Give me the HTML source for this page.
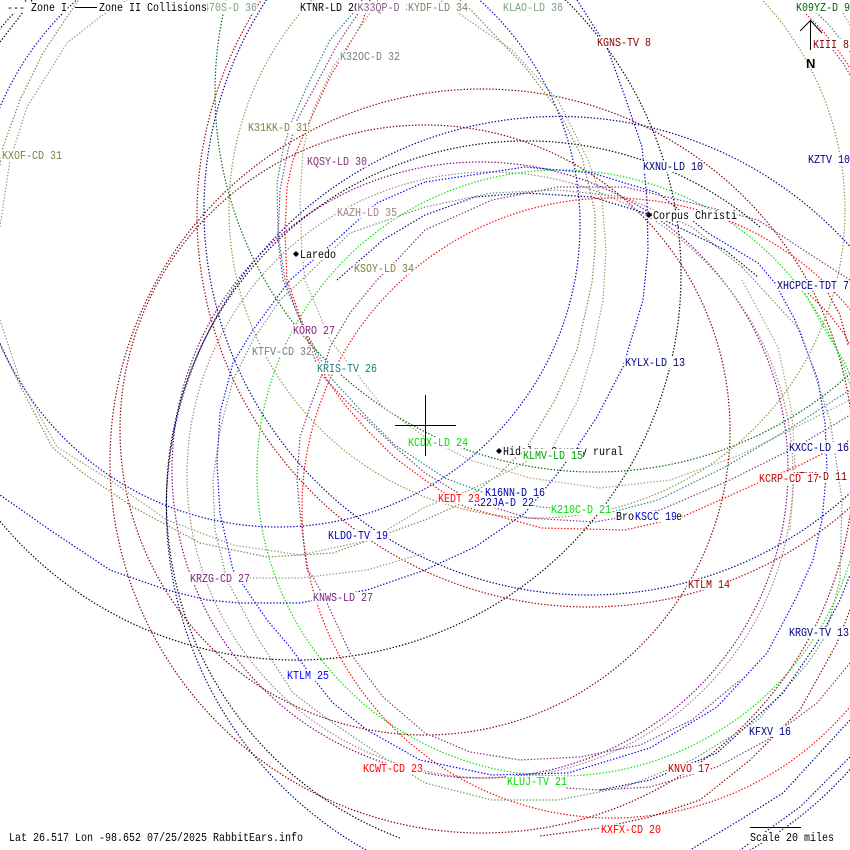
<!DOCTYPE html>
<html><head><meta charset="utf-8"><style>
html,body{margin:0;padding:0;background:#fff;width:850px;height:850px;overflow:hidden;}
svg{display:block;overflow:hidden;}
text{font-family:"Liberation Mono","DejaVu Sans Mono",monospace;font-size:12px;}
.a{fill:none;stroke-width:1.2;stroke-dasharray:1.4 1.8;}
</style></head><body>
<svg width="850" height="850" viewBox="0 0 850 850" xmlns="http://www.w3.org/2000/svg">
<rect width="850" height="850" fill="#fff"/>
<g class="a">
<circle cx="278" cy="225" r="302" stroke="#0000c0" class="a"/>
<circle cx="296" cy="275" r="385" stroke="#000" class="a"/>
<circle cx="482" cy="461" r="372" stroke="#800000" class="a"/>
<circle cx="425" cy="430" r="305" stroke="#800000" class="a"/>
<circle cx="589" cy="215" r="392" stroke="#a00000" class="a"/>
<circle cx="480" cy="470" r="308" stroke="#800080" class="a"/>
<circle cx="490" cy="475" r="303" stroke="#a08080" class="a"/>
<circle cx="560" cy="473" r="303" stroke="#00e000" class="a"/>
<circle cx="612" cy="508" r="310" stroke="#ff0000" class="a"/>
<path class="a" stroke="#000080" d="M366,850 A392,392 0 1 1 850,246.5 M850,769.5 A392,392 0 0 1 750,850"/>
<circle cx="595" cy="92" r="380" stroke="#006000" class="a"/>
<path class="a" stroke="#000" d="M400,838 A360,360 0 1 1 760,227"/>
<circle cx="589" cy="210" r="385" stroke="#000080" class="a"/>
<circle cx="537" cy="210" r="308" stroke="#909040" class="a"/>
<polyline class="a" stroke="#000" points="0,42 27,7 32,0"/>
<polyline class="a" stroke="#808040" points="0,165 3,147 20,100 43,53 77,2 79,0"/>
<polyline class="a" stroke="#80a080" points="0,227 10,160 27,107 67,43 100,17 127,0"/>
<polyline class="a" stroke="#808040" points="0,345 25,395 52,447 83,473 133,507 200,543 267,557 333,553 425,520 458,505 498,475 527,447 555,400 577,350 592,283 595,250 595,213 582,157 558,110 525,67 468,7 460,0"/>
<polyline class="a" stroke="#80a080" points="0,320 20,380 57,447 110,480 167,520 233,545 300,555 370,540 425,507 470,490 515,468 553,447 578,400 593,350 603,300 606,250 602,200 588,160 558,100 512,50 458,13 440,0"/>
<polyline class="a" stroke="#80a080" points="240,578 300,578 367,570 425,553"/>
<polyline class="a" stroke="#208080" points="362,0 353,13 330,40 310,80 292,120 283,150 277,183 278,233 285,280 300,320 330,377 365,415 395,445 445,478 485,493 540,507 612,512 658,500 725,467 792,427 850,390"/>
<polyline class="a" stroke="#803080" points="364,3 357,15 337,45 317,83 297,120 288,150 280,190 278,240 283,280 300,320 320,373 345,400 367,420 395,447 425,473 470,500 528,518 595,522 660,510 730,480 800,445 850,415"/>
<polyline class="a" stroke="#ff0000" points="370,0 362,23 330,77 307,127 293,160 287,187 285,233 287,280 305,330 327,380 345,405 367,430 395,458 425,480 465,507 542,528 625,530 682,517 758,483 800,465 850,440"/>
<polyline class="a" stroke="#a0a080" points="378,0 370,13 333,67 313,110 303,150 300,200 302,250 305,280 330,340 383,407 425,437 470,460 530,478 600,488 670,480 740,455 800,425 850,400"/>
<polyline class="a" stroke="#0000ff" points="425,182 377,203 333,243 290,280 253,330 233,363 220,413 217,463 220,513 233,570 267,620 290,647 317,683 333,703 367,730 420,760 492,775 568,773 650,748 717,707 767,653 795,600 813,560 822,520 827,467 825,423 818,380 795,320 775,283 758,263 708,233 658,193 592,173 525,167 425,182"/>
<polyline class="a" stroke="#709070" points="742,267 692,227 625,197 558,190 492,193 425,207 350,233 307,275 280,300 253,340 233,380 220,430 213,480 215,530 227,580 257,637 293,693 333,723 383,757 425,783 492,800 558,800 625,787 692,760 758,720 808,663 825,637 840,580 842,500 830,420 800,330 742,267"/>
<polyline class="a" stroke="#000080" points="337,280 383,240 425,215 475,197 525,193 592,197 658,217 725,250 758,277"/>
<polyline class="a" stroke="#803080" points="850,280 808,253 758,220 692,203 625,187 558,187 492,200 425,230 397,260 377,280 350,313 330,347 320,380 310,407 300,437 297,480 300,513 307,570 313,577 327,603 350,653 383,697 425,733 470,752 520,760 580,757 640,745 692,720 740,680"/>
<polyline class="a" stroke="#0000c0" points="577,0 607,47 625,97 642,147 647,200 648,250 643,300 623,367 597,417 577,447 558,473 525,513 475,547 425,570 367,590 300,603 240,603 207,600 167,590 110,570 50,530 0,495"/>
<polyline class="a" stroke="#ff0000" points="806,14 822,30 838,50 850,68"/>
<polyline class="a" stroke="#208080" points="814,10 830,26 845,45 850,52"/>
<polyline class="a" stroke="#803080" points="833,50 843,63 850,75"/>
<polyline class="a" stroke="#80a080" points="843,13 850,25"/>
<polyline class="a" stroke="#00e000" points="805,293 825,330 845,363 850,375"/>
<polyline class="a" stroke="#ff0000" points="808,293 830,315 845,335 850,345"/>
<polyline class="a" stroke="#800000" points="828,293 840,315 848,345"/>
<polyline class="a" stroke="#a0a080" points="742,280 778,347 792,413 795,467 790,530"/>
<polyline class="a" stroke="#000080" points="850,720 783,793 740,820 690,850"/>
<polyline class="a" stroke="#000080" points="850,757 800,807 740,850"/>
<polyline class="a" stroke="#000080" points="600,790 650,780 717,753 783,693 817,643 840,600 850,575"/>
<polyline class="a" stroke="#800000" points="850,610 837,643 800,710 750,760 700,800 650,817 600,828 540,836"/>
<polyline class="a" stroke="#803080" points="850,663 817,703 767,740 717,767 650,787 600,790 565,788"/>
</g>

<!-- labels -->
<g>
<rect x="196" y="2" width="61" height="11" fill="#fff"/><text x="197" y="11" textLength="60" lengthAdjust="spacingAndGlyphs" fill="#80a080">K470S-D 36</text>
<rect x="6" y="2" width="61" height="11" fill="#fff"/><text x="7" y="11" textLength="60" lengthAdjust="spacingAndGlyphs" fill="#000">--- Zone I</text>
<line x1="75" y1="7.5" x2="97" y2="7.5" stroke="#000" stroke-width="1"/>
<rect x="98" y="2" width="109" height="11" fill="#fff"/><text x="99" y="11" textLength="108" lengthAdjust="spacingAndGlyphs" fill="#000">Zone II Collisions</text>
<rect x="299" y="2" width="61" height="11" fill="#fff"/><text x="300" y="11" textLength="60" lengthAdjust="spacingAndGlyphs" fill="#000">KTNR-LD 20</text>
<rect x="356.5" y="2" width="61" height="11" fill="#fff"/><text x="357.5" y="11" textLength="60" lengthAdjust="spacingAndGlyphs" fill="#806080">K33QP-D 36</text>
<rect x="407" y="2" width="61" height="11" fill="#fff"/><text x="408" y="11" textLength="60" lengthAdjust="spacingAndGlyphs" fill="#808060">KYDF-LD 34</text>
<rect x="502" y="2" width="61" height="11" fill="#fff"/><text x="503" y="11" textLength="60" lengthAdjust="spacingAndGlyphs" fill="#80a080">KLAO-LD 36</text>
<rect x="795" y="2" width="55" height="11" fill="#fff"/><text x="796" y="11" textLength="54" lengthAdjust="spacingAndGlyphs" fill="#006000">K09YZ-D 9</text>
<rect x="596" y="37" width="55" height="11" fill="#fff"/><text x="597" y="46" textLength="54" lengthAdjust="spacingAndGlyphs" fill="#800000">KGNS-TV 8</text>
<rect x="812" y="39" width="37" height="11" fill="#fff"/><text x="813" y="48" textLength="36" lengthAdjust="spacingAndGlyphs" fill="#800000">KIII 8</text>
<rect x="339" y="51" width="61" height="11" fill="#fff"/><text x="340" y="60" textLength="60" lengthAdjust="spacingAndGlyphs" fill="#708080">K32OC-D 32</text>
<rect x="247" y="122" width="61" height="11" fill="#fff"/><text x="248" y="131" textLength="60" lengthAdjust="spacingAndGlyphs" fill="#808040">K31KK-D 31</text>
<rect x="1" y="150" width="61" height="11" fill="#fff"/><text x="2" y="159" textLength="60" lengthAdjust="spacingAndGlyphs" fill="#808040">KXOF-CD 31</text>
<rect x="306" y="156" width="61" height="11" fill="#fff"/><text x="307" y="165" textLength="60" lengthAdjust="spacingAndGlyphs" fill="#803080">KQSY-LD 30</text>
<rect x="642" y="161" width="61" height="11" fill="#fff"/><text x="643" y="170" textLength="60" lengthAdjust="spacingAndGlyphs" fill="#000080">KXNU-LD 10</text>
<rect x="807" y="154" width="43" height="11" fill="#fff"/><text x="808" y="163" textLength="42" lengthAdjust="spacingAndGlyphs" fill="#000080">KZTV 10</text>
<rect x="336" y="207" width="61" height="11" fill="#fff"/><text x="337" y="216" textLength="60" lengthAdjust="spacingAndGlyphs" fill="#a08080">KAZH-LD 35</text>
<rect x="652" y="210" width="85" height="11" fill="#fff"/><text x="653" y="219" textLength="84" lengthAdjust="spacingAndGlyphs" fill="#000">Corpus Christi</text>
<polygon points="649,212 652,215 649,218 646,215" fill="#000"/>
<rect x="299" y="249" width="37" height="11" fill="#fff"/><text x="300" y="258" textLength="36" lengthAdjust="spacingAndGlyphs" fill="#000">Laredo</text>
<polygon points="296,251 299,254 296,257 293,254" fill="#000"/>
<rect x="353" y="263" width="61" height="11" fill="#fff"/><text x="354" y="272" textLength="60" lengthAdjust="spacingAndGlyphs" fill="#808040">KSOY-LD 34</text>
<rect x="776" y="280" width="73" height="11" fill="#fff"/><text x="777" y="289" textLength="72" lengthAdjust="spacingAndGlyphs" fill="#000080">XHCPCE-TDT 7</text>
<rect x="292" y="325" width="43" height="11" fill="#fff"/><text x="293" y="334" textLength="42" lengthAdjust="spacingAndGlyphs" fill="#802080">KORO 27</text>
<rect x="251" y="346" width="61" height="11" fill="#fff"/><text x="252" y="355" textLength="60" lengthAdjust="spacingAndGlyphs" fill="#708080">KTFV-CD 32</text>
<rect x="316" y="363" width="61" height="11" fill="#fff"/><text x="317" y="372" textLength="60" lengthAdjust="spacingAndGlyphs" fill="#208080">KRIS-TV 26</text>
<rect x="624" y="357" width="61" height="11" fill="#fff"/><text x="625" y="366" textLength="60" lengthAdjust="spacingAndGlyphs" fill="#000080">KYLX-LD 13</text>
<rect x="407" y="437" width="61" height="11" fill="#fff"/><text x="408" y="446" textLength="60" lengthAdjust="spacingAndGlyphs" fill="#00e000">KCDX-LD 24</text>
<rect x="502" y="446" width="121" height="11" fill="#fff"/><text x="503" y="455" textLength="120" lengthAdjust="spacingAndGlyphs" fill="#000">Hidalgo County rural</text>
<polygon points="499,448 502,451 499,454 496,451" fill="#000"/>
<rect x="522" y="449" width="61" height="12" fill="#fff"/><text x="523" y="459" textLength="60" lengthAdjust="spacingAndGlyphs" fill="#00a000">KLMV-LD 15</text>
<rect x="788" y="442" width="62" height="11" fill="#fff"/><text x="789" y="451" textLength="60" lengthAdjust="spacingAndGlyphs" fill="#000080">KXCC-LD 16</text>
<rect x="792" y="471" width="58" height="11" fill="#fff"/><text x="793" y="480" textLength="54" lengthAdjust="spacingAndGlyphs" fill="#800000">KTXK-D 11</text>
<rect x="758" y="473" width="61" height="11" fill="#fff"/><text x="759" y="482" textLength="60" lengthAdjust="spacingAndGlyphs" fill="#c00000">KCRP-CD 17</text>
<rect x="484" y="487" width="61" height="10" fill="#fff"/><text x="485" y="496" textLength="60" lengthAdjust="spacingAndGlyphs" fill="#0000a0">K16NN-D 16</text>
<rect x="473" y="497" width="61" height="11" fill="#fff"/><text x="474" y="506" textLength="60" lengthAdjust="spacingAndGlyphs" fill="#0000c0">K22JA-D 22</text>
<rect x="437" y="493" width="43" height="11" fill="#fff"/><text x="438" y="502" textLength="42" lengthAdjust="spacingAndGlyphs" fill="#ff0000">KEDT 23</text>
<rect x="550" y="504" width="61" height="11" fill="#fff"/><text x="551" y="513" textLength="60" lengthAdjust="spacingAndGlyphs" fill="#00e000">K210C-D 21</text>
<rect x="615" y="511" width="67" height="11" fill="#fff"/><text x="616" y="520" textLength="66" lengthAdjust="spacingAndGlyphs" fill="#000">Brownsville</text>
<rect x="634" y="511" width="43" height="11" fill="#fff"/><text x="635" y="520" textLength="42" lengthAdjust="spacingAndGlyphs" fill="#0000c0">KSCC 19</text>
<rect x="327" y="530" width="61" height="11" fill="#fff"/><text x="328" y="539" textLength="60" lengthAdjust="spacingAndGlyphs" fill="#0000c0">KLDO-TV 19</text>
<rect x="189" y="573" width="61" height="11" fill="#fff"/><text x="190" y="582" textLength="60" lengthAdjust="spacingAndGlyphs" fill="#802080">KRZG-CD 27</text>
<rect x="312" y="592" width="61" height="11" fill="#fff"/><text x="313" y="601" textLength="60" lengthAdjust="spacingAndGlyphs" fill="#802080">KNWS-LD 27</text>
<rect x="687" y="579" width="43" height="11" fill="#fff"/><text x="688" y="588" textLength="42" lengthAdjust="spacingAndGlyphs" fill="#a00000">KTLM 14</text>
<rect x="788" y="627" width="62" height="11" fill="#fff"/><text x="789" y="636" textLength="60" lengthAdjust="spacingAndGlyphs" fill="#000080">KRGV-TV 13</text>
<rect x="286" y="670" width="43" height="11" fill="#fff"/><text x="287" y="679" textLength="42" lengthAdjust="spacingAndGlyphs" fill="#0000ff">KTLM 25</text>
<rect x="748" y="726" width="43" height="11" fill="#fff"/><text x="749" y="735" textLength="42" lengthAdjust="spacingAndGlyphs" fill="#000080">KFXV 16</text>
<rect x="667" y="763" width="43" height="11" fill="#fff"/><text x="668" y="772" textLength="42" lengthAdjust="spacingAndGlyphs" fill="#c00000">KNVO 17</text>
<rect x="362" y="763" width="61" height="11" fill="#fff"/><text x="363" y="772" textLength="60" lengthAdjust="spacingAndGlyphs" fill="#ff0000">KCWT-CD 23</text>
<rect x="506" y="776" width="61" height="11" fill="#fff"/><text x="507" y="785" textLength="60" lengthAdjust="spacingAndGlyphs" fill="#00e000">KLUJ-TV 21</text>
<rect x="600" y="824" width="61" height="11" fill="#fff"/><text x="601" y="833" textLength="60" lengthAdjust="spacingAndGlyphs" fill="#ff0000">KXFX-CD 20</text>
<rect x="8" y="832" width="295" height="11" fill="#fff"/><text x="9" y="841" textLength="294" lengthAdjust="spacingAndGlyphs" fill="#000">Lat 26.517 Lon -98.652 07/25/2025 RabbitEars.info</text>
<line x1="750" y1="827.5" x2="801" y2="827.5" stroke="#000" stroke-width="1"/>
<rect x="749" y="832" width="85" height="11" fill="#fff"/><text x="750" y="841" textLength="84" lengthAdjust="spacingAndGlyphs" fill="#000">Scale 20 miles</text>
</g>

<!-- north arrow -->
<line x1="810.5" y1="20" x2="810.5" y2="50" stroke="#000" stroke-width="1"/>
<polyline points="800,31 810.5,20.5 822,33" fill="none" stroke="#000" stroke-width="1"/>
<text x="806" y="68" style="font-family:'Liberation Sans',sans-serif;font-size:13px;font-weight:bold" fill="#000">N</text>

<!-- crosshair -->
<line x1="425.5" y1="395" x2="425.5" y2="456" stroke="#000" stroke-width="1"/>
<line x1="395" y1="425.5" x2="456" y2="425.5" stroke="#000" stroke-width="1"/>
</svg>
</body></html>
